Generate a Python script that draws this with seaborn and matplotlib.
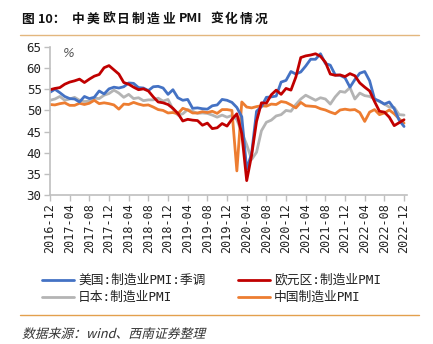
import numpy as np
import pandas as pd
import matplotlib
matplotlib.use("Agg")
import matplotlib.pyplot as plt
from matplotlib.lines import Line2D
from matplotlib.textpath import TextPath
from matplotlib.patches import PathPatch
from matplotlib.font_manager import FontProperties
from matplotlib.transforms import Affine2D
import seaborn as sns

# Monthly manufacturing PMI readings, 2016-12 .. 2022-12
start_month = "2016-12"
n_months = 73

us_pmi = [54.3,
          55.0, 54.2, 53.3, 52.8, 52.7, 52.0, 53.3, 52.8, 53.1, 54.6, 53.9, 55.1,
          55.5, 55.3, 55.6, 56.5, 56.4, 55.4, 55.3, 54.7, 55.6, 55.7, 55.3, 53.8,
          54.9, 53.0, 52.4, 52.6, 50.5, 50.6, 50.4, 50.3, 51.1, 51.3, 52.6, 52.4,
          51.9, 50.7, 48.5, 36.1, 39.8, 49.8, 50.9, 53.1, 53.2, 53.4, 56.7, 57.1,
          59.2, 58.6, 59.1, 60.5, 62.1, 62.1, 63.4, 61.1, 60.7, 58.4, 58.3, 57.7,
          55.5, 57.3, 58.8, 59.2, 57.0, 52.7, 52.2, 51.5, 52.0, 50.4, 47.7, 46.2]

ez_pmi = [54.9,
          55.2, 55.4, 56.2, 56.7, 57.0, 57.4, 56.6, 57.4, 58.1, 58.5, 60.1, 60.6,
          59.6, 58.6, 56.6, 56.2, 55.5, 54.9, 55.1, 54.6, 53.2, 52.0, 51.8, 51.4,
          50.5, 49.3, 47.5, 47.9, 47.7, 47.6, 46.5, 47.0, 45.7, 45.9, 46.9, 46.3,
          47.9, 49.2, 44.5, 33.4, 39.4, 47.4, 51.8, 51.7, 53.7, 54.8, 53.8, 55.2,
          54.8, 57.9, 62.5, 62.9, 63.1, 63.4, 62.8, 61.4, 58.6, 58.3, 58.4, 58.0,
          58.7, 58.2, 56.5, 55.5, 54.6, 52.1, 49.8, 49.6, 48.4, 46.4, 47.1, 47.8]

jp_pmi = [52.4,
          52.7, 53.3, 52.4, 52.7, 53.1, 52.4, 52.1, 52.2, 52.9, 52.8, 53.6, 54.0,
          54.8, 54.1, 53.1, 53.8, 52.8, 53.0, 52.3, 52.5, 52.5, 52.9, 52.2, 52.6,
          50.3, 48.9, 49.2, 50.2, 49.8, 49.3, 49.4, 49.3, 48.9, 48.4, 48.9, 48.4,
          48.8, 47.8, 44.8, 41.9, 38.4, 40.1, 45.2, 47.2, 47.7, 48.7, 49.0, 50.0,
          49.8, 51.4, 52.7, 53.6, 53.0, 52.4, 53.0, 52.7, 51.5, 53.2, 54.5, 54.3,
          55.4, 52.7, 54.1, 53.5, 53.3, 52.7, 52.1, 51.5, 50.8, 50.7, 49.0, 48.9]

cn_pmi = [51.4,
          51.3, 51.6, 51.8, 51.2, 51.2, 51.7, 51.4, 51.7, 52.4, 51.6, 51.8, 51.6,
          51.3, 50.3, 51.5, 51.4, 51.9, 51.5, 51.2, 51.3, 50.8, 50.2, 50.0, 49.4,
          49.5, 49.2, 50.5, 50.1, 49.4, 49.4, 49.7, 49.5, 49.8, 49.3, 50.2, 50.2,
          50.0, 35.7, 52.0, 50.8, 50.6, 50.9, 51.1, 51.0, 51.5, 51.4, 52.1, 51.9,
          51.3, 50.6, 51.9, 51.1, 51.0, 50.9, 50.4, 50.1, 49.6, 49.2, 50.1, 50.3,
          50.1, 50.2, 49.5, 47.4, 49.6, 50.2, 49.0, 49.4, 50.1, 49.2, 48.0, 47.0]

series_names = ["美国:制造业PMI:季调", "欧元区:制造业PMI",
                "日本:制造业PMI", "中国制造业PMI"]
series_colors = ["#4472C4", "#C00000", "#B4B4B4", "#ED7D31"]

y_ticks = [30, 35, 40, 45, 50, 55, 60, 65]
tick_every = 4

months = pd.date_range(start_month, periods=n_months, freq="MS")
tick_labels = list(months[::tick_every].strftime("%Y-%m"))

frames = []
for name, vals in zip(series_names, [us_pmi, ez_pmi, jp_pmi, cn_pmi]):
    frames.append(pd.DataFrame({"idx": np.arange(n_months), "value": vals,
                                "series": name}))
df = pd.concat(frames, ignore_index=True)

sns.set_theme(style="white")
mono_cjk = ["DejaVu Sans Mono", "Noto Sans CJK SC"]
cjk = ["Noto Sans CJK SC", "DejaVu Sans"]
plt.rcParams["font.family"] = cjk

W, H = 433, 344
fig = plt.figure(figsize=(W / 100, H / 100), dpi=100)
fig.patch.set_facecolor("white")


def fx(px):
    return px / W


def fy(py):
    return 1 - py / H


ax = fig.add_axes([fx(50), fy(195), (407 - 50) / W, (195 - 47) / H])
# grey first, then orange, blue and red on top
order = ["日本:制造业PMI", "中国制造业PMI", "美国:制造业PMI:季调", "欧元区:制造业PMI"]
palette = dict(zip(series_names, series_colors))
sns.lineplot(data=df, x="idx", y="value", hue="series", hue_order=order,
             palette=palette, linewidth=2.0, legend=False, ax=ax)

ax.set_xlim(0, n_months - 1 + 0.6)
ax.set_ylim(30, 65)
ax.set_yticks(y_ticks)
ax.set_yticklabels([str(t) for t in y_ticks], family="DejaVu Sans Mono",
                   fontsize=9, color="#222222")
ax.set_xticks(np.arange(0, n_months, tick_every))
ax.set_xticklabels(tick_labels, rotation=90, family="DejaVu Sans Mono",
                   fontsize=8.5, color="#222222")
ax.set_xlabel("")
ax.set_ylabel("")
for side in ["top", "right"]:
    ax.spines[side].set_visible(False)
for side in ["left", "bottom"]:
    ax.spines[side].set_color("#BFBFBF")
    ax.spines[side].set_linewidth(1.2)
ax.tick_params(axis="both", which="both", direction="out", length=4,
               width=1.0, color="#BFBFBF", pad=2, left=True, bottom=True)
ax.text(0.035, 0.93, "%", transform=ax.transAxes, fontsize=9,
        color="#555555", style="italic", family="DejaVu Sans")

# Title, letter-spaced
title_bits = [("图", 21), ("10：", 38)]
title_bits += [(ch, 72 + 15 * i) for i, ch in enumerate("中美欧日制造业")]
title_bits += [("PMI", 179)]
title_bits += [(ch, 210 + 15 * i) for i, ch in enumerate("变化情况")]
for s, x in title_bits:
    fig.text(fx(x), fy(19), s, fontsize=9.2, fontweight="bold",
             va="center", ha="left", family=cjk, color="#111111")

fig.add_artist(Line2D([fx(20), fx(419)], [fy(35), fy(35)],
                      color="#E3B77E", linewidth=1.0))
fig.add_artist(Line2D([fx(20), fx(419)], [fy(315), fy(315)],
                      color="#E3A04E", linewidth=1.0))

# Legend: two rows, two columns
legend_slots = [(42, 280), (238, 280), (42, 297), (238, 297)]
for (lx, ly), name, color in zip(legend_slots, series_names, series_colors):
    fig.add_artist(Line2D([fx(lx), fx(lx + 32)], [fy(ly), fy(ly)],
                          color=color, linewidth=2.0))
    fig.text(fx(lx + 36), fy(ly), name, fontsize=9.2, va="center",
             ha="left", family=mono_cjk, color="#222222")

# Source note in slanted type
src_fp = FontProperties(family="Noto Sans CJK SC")
src_path = TextPath((0, 0), "数据来源：wind、西南证券整理", prop=src_fp, size=12.8)
src_tf = Affine2D().skew_deg(14, 0).translate(22, H - 338)
fig.add_artist(PathPatch(src_path, transform=src_tf, facecolor="#333333",
                         edgecolor="none"))

fig.savefig("out.png", dpi=100, facecolor="white")
